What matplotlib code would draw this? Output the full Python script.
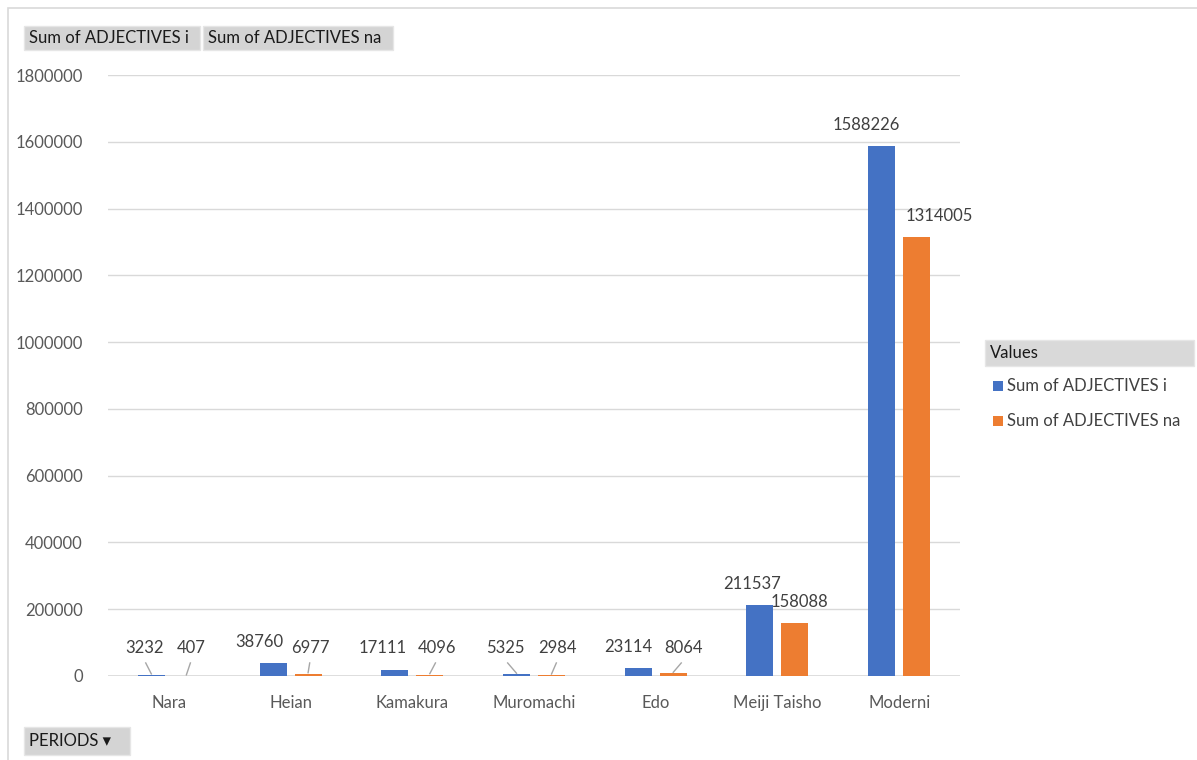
import matplotlib
matplotlib.use("Agg")
import matplotlib.pyplot as plt
import numpy as np
from matplotlib.patches import Rectangle, FancyBboxPatch

periods = ["Nara", "Heian", "Kamakura", "Muromachi", "Edo", "Meiji Taisho", "Moderni"]
adj_i = [3232, 38760, 17111, 5325, 23114, 211537, 1588226]
adj_na = [407, 6977, 4096, 2984, 8064, 158088, 1314005]
series_names = ["Sum of ADJECTIVES i", "Sum of ADJECTIVES na"]
yticks = [0, 200000, 400000, 600000, 800000, 1000000, 1200000, 1400000, 1600000, 1800000]

# label horizontal nudges in pixels (style only)
dx_i = [-7, -14, -12, -11, -10, -8, -15]
dx_na = [5, 2, 7, 6, 10, 5, 23]

FONT = "Lato"
plt.rcParams["font.family"] = [FONT, "DejaVu Sans"]
W, H = 1197, 760
fig = plt.figure(figsize=(W / 100, H / 100), dpi=100)

def fx(px):
    return px / W

def fy(py):
    return 1 - py / H

ax = fig.add_axes([fx(108), fy(676), fx(960) - fx(108), fy(75) - fy(676)])
x = np.arange(len(periods))
bw = 0.222
off = 0.144
blue = "#4472C4"
orange = "#ED7D31"
ax.bar(x - off, adj_i, bw, color=blue, zorder=3)
ax.bar(x + off, adj_na, bw, color=orange, zorder=3)
ax.set_xlim(-0.5, len(periods) - 0.5)
ax.set_ylim(0, 1800000)
ax.set_yticks(yticks)
ax.set_yticklabels([str(t) for t in yticks])
ax.set_xticks(x)
ax.set_xticklabels(periods)
for s in ax.spines.values():
    s.set_visible(False)
ax.grid(axis="y", color="#d9d9d9", linewidth=1, zorder=0)
ax.tick_params(axis="both", length=0, colors="#595959", labelsize=12)
ax.tick_params(axis="y", pad=18)
ax.tick_params(axis="x", pad=14)
ax.axhline(0, color="#d9d9d9", linewidth=1.2, zorder=2)

per_px = 1800000 / (676 - 75)
min_label = 84000
for vals, xs, dxs in ((adj_i, x - off, dx_i), (adj_na, x + off, dx_na)):
    for v, xc, d in zip(vals, xs, dxs):
        ly = max(v + 21 * per_px, min_label)
        lx_px = d / 121.7
        ax.text(xc + lx_px, ly, str(v), ha="center", va="center",
                fontsize=12, color="#404040", zorder=4)
        if ly - v > 70000:
            ax.plot([xc + lx_px * 0.8, xc], [ly - 15 * per_px, v + 1 * per_px],
                    color="#a6a6a6", linewidth=1, zorder=4)

# figure frame
fig.patches.append(Rectangle((fx(8), -0.5), 2, fy(8) + 0.5, transform=fig.transFigure,
                             fill=False, edgecolor="#d9d9d9", linewidth=1.2))

def button(x0, y0, x1, y1, text, fs=12, face="#d4d4d4"):
    fig.patches.append(Rectangle((fx(x0), fy(y1)), fx(x1) - fx(x0), fy(y0) - fy(y1),
                                 transform=fig.transFigure, facecolor=face,
                                 edgecolor="#e6e6e6", linewidth=1))
    fig.text(fx(x0 + 5), fy((y0 + y1) / 2), text, ha="left", va="center",
             fontsize=fs, color="#1a1a1a")

button(24, 26, 200, 50, series_names[0])
button(203, 26, 393, 50, series_names[1])
button(24, 727, 130, 755, "PERIODS \u25BE")
button(985, 340, 1194, 366, "Values", face="#d9d9d9")

for i, (name, col) in enumerate(zip(series_names, [blue, orange])):
    yc = 386 + 35 * i
    fig.patches.append(Rectangle((fx(993), fy(yc + 5)), fx(10), 10 / H,
                                 transform=fig.transFigure, facecolor=col, edgecolor="none"))
    fig.text(fx(1007), fy(yc), name, ha="left", va="center", fontsize=12, color="#404040")

fig.savefig("out.png", dpi=100)
